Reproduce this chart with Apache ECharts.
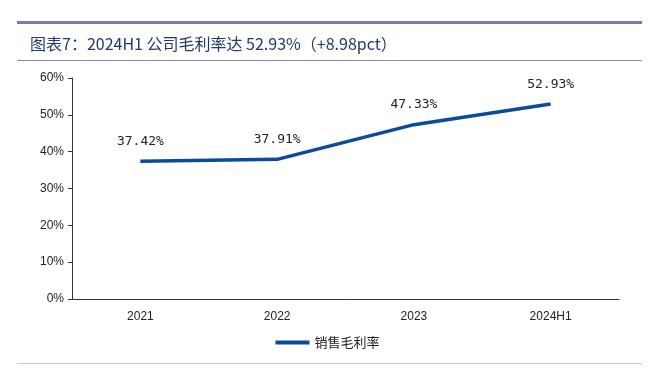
<!DOCTYPE html>
<html><head><meta charset="utf-8">
<script src="https://cdn.jsdelivr.net/npm/echarts@6/dist/echarts.min.js"></script>
<style>html,body{margin:0;padding:0;background:#fff}#c{width:655px;height:368px}</style>
</head><body><div id="c"></div>
<script>
var categories = ['2021', '2022', '2023', '2024H1'];
var grossMargin = [37.42, 37.91, 47.33, 52.93];
var yTicks = [0, 10, 20, 30, 40, 50, 60];
var seriesName = '销售毛利率';
var titleText = '图表7：2024H1 公司毛利率达 52.93%（+8.98pct）';

var chart = echarts.init(document.getElementById('c'));
chart.setOption({
  animation: false,
  title: {
    text: titleText, left: 25, top: 31,
    textStyle: {fontSize: 16, fontWeight: 'normal', color: '#1f3a6e', fontFamily: '"Noto Sans CJK SC", sans-serif'}
  },
  graphic: [
    {type: 'rect', shape: {x: 17, y: 21, width: 625, height: 3}, style: {fill: '#7a7aa6'}},
    {type: 'rect', shape: {x: 17, y: 60, width: 625, height: 1}, style: {fill: '#8a8ab0'}},
    {type: 'rect', shape: {x: 17, y: 363, width: 625, height: 1}, style: {fill: '#c8c8d8'}}
  ],
  legend: {
    data: [seriesName], bottom: 14, left: 'center', itemWidth: 34, itemHeight: 4, itemGap: 6,
    icon: 'rect',
    textStyle: {fontSize: 13, color: '#222', fontFamily: '"Noto Sans CJK SC", sans-serif'}
  },
  grid: {left: 72, right: 36, top: 78, bottom: 69},
  xAxis: {
    type: 'category', data: categories, boundaryGap: true,
    axisLine: {lineStyle: {color: '#333', width: 1}},
    axisTick: {show: false},
    axisLabel: {color: '#222', fontSize: 12, margin: 12, fontFamily: 'Liberation Sans, Arial'}
  },
  yAxis: {
    type: 'value', min: yTicks[0], max: yTicks[yTicks.length - 1], interval: 10,
    axisLine: {show: true, lineStyle: {color: '#333'}},
    axisTick: {show: true, inside: false, length: 4, lineStyle: {color: '#333'}},
    splitLine: {show: false},
    axisLabel: {formatter: '{value}%', color: '#222', fontSize: 12, margin: 8, fontFamily: 'Liberation Sans, Arial'}
  },
  series: [{
    name: seriesName, type: 'line', data: grossMargin,
    symbol: 'circle', symbolSize: 0.1, showSymbol: true,
    lineStyle: {color: '#0b4a9c', width: 3.5}, itemStyle: {color: '#0b4a9c'},
    label: {show: true, position: 'top', distance: 13, formatter: function(p){return Number(p.value).toFixed(2) + '%';},
      color: '#222', fontSize: 13, fontFamily: 'DejaVu Sans Mono, monospace'}
  }]
});
</script></body></html>
